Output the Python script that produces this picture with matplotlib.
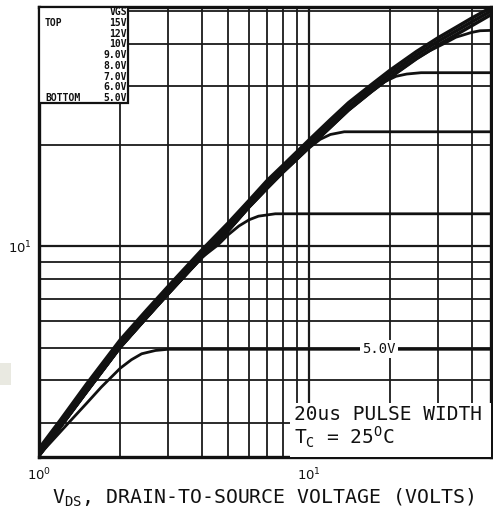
import numpy as np
import matplotlib.pyplot as plt
from matplotlib.ticker import NullFormatter
from matplotlib.patches import Rectangle

# drain current (A) vs drain-source voltage (V)
# top band: VGS = 15V / 12V / 10V run almost on top of each other
vds_band = [1.0, 1.2, 1.5, 2.0, 2.5, 3.0, 4.0, 5.0, 6.0, 7.0, 8.0, 10.0, 12.0, 14.0, 17.0, 20.0,
            25.0, 30.0, 35.0, 40.0, 47.0]
id_15v = [2.51, 3.05, 3.9, 5.28, 6.46, 7.59, 9.74, 11.7, 13.7, 15.7, 17.4, 20.7, 23.8, 26.7, 30.2, 33.4,
          37.9, 41.6, 44.7, 47.6, 51.1]
id_12v = [2.45, 2.98, 3.8, 5.15, 6.3, 7.4, 9.5, 11.4, 13.4, 15.3, 17.0, 20.2, 23.2, 26.0, 29.5, 32.6,
          37.0, 40.6, 43.6, 46.4, 49.9]
id_10v = [2.39, 2.91, 3.7, 5.02, 6.14, 7.22, 9.26, 11.1, 13.1, 14.9, 16.6, 19.7, 22.6, 25.4, 28.8, 31.8,
          36.1, 39.6, 42.5, 45.2, 48.7]

# lower gate voltages follow the 10V curve, then flatten out
vds_9v = vds_band[:17] + [28.0, 31.6, 35.0, 40.0, 43.0, 47.0]
id_9v = id_10v[:17] + [38.1, 40.0, 41.8, 43.2, 43.7, 43.8]

vds_8v = vds_band[:15] + [19.0, 21.0, 23.0, 26.0, 47.0]
id_8v = id_10v[:15] + [30.8, 32.0, 32.5, 32.8, 32.8]

vds_7v = vds_band[:11] + [9.0, 10.0, 11.0, 12.0, 13.5, 47.0]
id_7v = id_10v[:11] + [18.1, 19.6, 20.8, 21.5, 21.9, 21.9]

vds_6v = vds_band[:7] + [4.6, 5.0, 5.5, 6.0, 6.5, 7.5, 47.0]
id_6v = id_10v[:7] + [10.1, 10.8, 11.5, 12.0, 12.3, 12.5, 12.5]

vds_5v = [1.0, 1.3, 1.5, 1.7, 2.0, 2.2, 2.4, 2.7, 3.0, 47.0]
id_5v = [2.4, 3.02, 3.42, 3.82, 4.35, 4.61, 4.8, 4.91, 4.95, 4.95]

vgs_labels = ["15V", "12V", "10V", "9.0V", "8.0V", "7.0V", "6.0V", "5.0V"]

W, H = 493, 516
fig = plt.figure(figsize=(W / 100, H / 100), dpi=100)
ax = fig.add_axes([39 / W, 1 - 457 / H, 452 / W, 450 / H])
ax.set_xscale('log')
ax.set_yscale('log')
ax.set_xlim(1, 47.2)
ax.set_ylim(2.37, 51.4)

ax.grid(which='major', color='#1a1a1a', lw=1.6, zorder=1)
ax.grid(which='minor', color='#1a1a1a', lw=1.3, zorder=1)
ax.set_axisbelow(True)
ax.xaxis.set_minor_formatter(NullFormatter())
ax.yaxis.set_minor_formatter(NullFormatter())
ax.tick_params(which='both', length=0, labelsize=9.5, colors='#111')
ax.tick_params(axis='x', pad=7)
ax.tick_params(axis='y', pad=5)
for s in ax.spines.values():
    s.set_linewidth(2.4)
    s.set_color('#111')

kw = dict(color='#111', solid_joinstyle='round', solid_capstyle='round', zorder=3)
ax.plot(vds_band, id_15v, lw=2.5, **kw)
ax.plot(vds_band, id_12v, lw=2.5, **kw)
ax.plot(vds_band, id_10v, lw=2.5, **kw)
ax.plot(vds_9v, id_9v, lw=2.0, **kw)
ax.plot(vds_8v, id_8v, lw=2.0, **kw)
ax.plot(vds_7v, id_7v, lw=2.0, **kw)
ax.plot(vds_6v, id_6v, lw=2.0, **kw)
ax.plot(vds_5v, id_5v, lw=2.0, **kw)

ax.text(18.2, id_5v[-1], "5.0V", family='DejaVu Sans Mono', fontsize=10, ha='center', va='center',
        color='#111', zorder=4, bbox=dict(facecolor='white', edgecolor='none', pad=1.5))

# legend box, top left
def ay(py):
    return (457 - py) / 450

ax.add_patch(Rectangle((0, ay(103)), (128 - 39) / 452, 1 - ay(103), transform=ax.transAxes,
                       facecolor='white', edgecolor='#111', lw=1.6, zorder=5))
lkw = dict(transform=ax.transAxes, family='DejaVu Sans Mono', fontweight='bold', fontsize=7,
           va='center', color='#111', zorder=6)
ax.text(0.195, ay(12), "VGS", ha='right', **lkw)
ax.text(0.013, ay(23), "TOP", ha='left', **lkw)
ax.text(0.013, ay(98), "BOTTOM", ha='left', **lkw)
rows = [23, 34, 44, 55, 66, 77, 87, 98]
for lab, py in zip(vgs_labels, rows):
    ax.text(0.195, ay(py), lab, ha='right', **lkw)

# pulse width box, bottom right
ax.add_patch(Rectangle(((290 - 39) / 452, 0), 1 - (290 - 39) / 452, ay(403), transform=ax.transAxes,
                       facecolor='white', edgecolor='none', zorder=5))
tkw = dict(transform=ax.transAxes, family='DejaVu Sans Mono', fontsize=14, ha='left',
           va='center', color='#111', zorder=6)
ax.text((294 - 39) / 452, ay(414), "20us PULSE WIDTH", **tkw)
ax.text((294 - 39) / 452, ay(437), r"T$_\mathregular{C}$ = 25$^\mathregular{O}$C", **tkw)

fig.text(263 / W, 1 - 504 / H, r"V$_\mathregular{DS}$, DRAIN-TO-SOURCE VOLTAGE (VOLTS)",
         family='DejaVu Sans Mono', fontsize=14.3, ha='center', va='baseline', color='#111')

# scanner smudge at left edge
fig.patches.append(Rectangle((0, 1 - 385 / H), 11 / W, 22 / H, transform=fig.transFigure,
                             facecolor='#e9e9e1', edgecolor='none'))

fig.savefig('out.png', dpi=100)
